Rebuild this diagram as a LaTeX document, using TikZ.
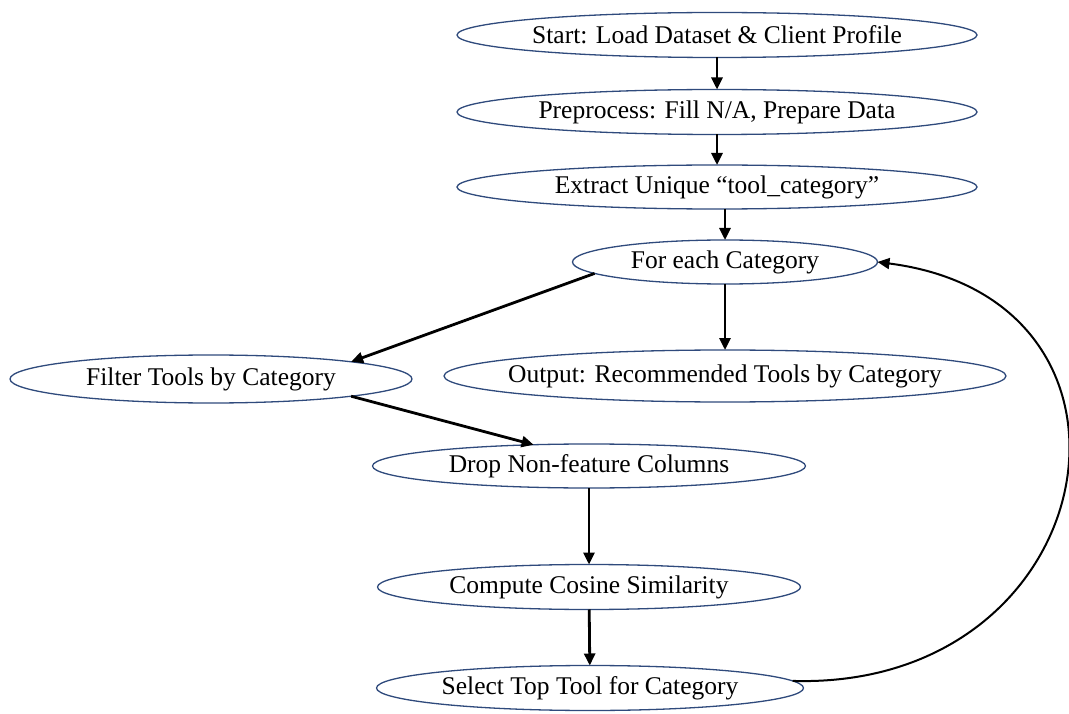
\documentclass[tikz,border=0pt]{standalone}
\usepackage{fontspec}
\setmainfont{Liberation Serif}
\usetikzlibrary{shapes.geometric,arrows.meta}
\definecolor{edgeblue}{HTML}{2F4A7C}
\begin{document}
\begin{tikzpicture}[x=1pt,y=-1pt,
  stage/.style={ellipse, draw=edgeblue, line width=1.3pt, fill=white,
    inner sep=0pt, outer sep=0pt, font=\fontsize{25.5}{30}\selectfont},
  flow/.style={line width=2.8pt, -{Triangle[length=12pt,width=11pt]}},
  back/.style={line width=2pt, -{Triangle[length=12pt,width=11pt]}}]
\useasboundingbox (0,0) rectangle (1069,714);

% main pipeline stages
\node[stage, minimum width=520pt, minimum height=45pt] (load)    at (717,35)  {\makebox[0pt]{Start: Load Dataset \& Client Profile}};
\node[stage, minimum width=520pt, minimum height=45pt] (prep)    at (717,112) {\makebox[0pt]{Preprocess: Fill N/A, Prepare Data}};
\node[stage, minimum width=520pt, minimum height=44pt] (extract) at (717,187) {\makebox[0pt]{Extract Unique “tool\_category”}};
\node[stage, minimum width=305pt, minimum height=44pt] (each)    at (725,262) {\makebox[0pt]{For each Category}};
\node[stage, minimum width=402pt, minimum height=48pt] (filter)  at (211,379) {\makebox[0pt]{Filter Tools by Category}};
\node[stage, minimum width=562pt, minimum height=52pt] (output)  at (725,376) {\makebox[0pt]{Output: Recommended Tools by Category}};
\node[stage, minimum width=433pt, minimum height=44pt] (drop)    at (589,466) {\makebox[0pt]{Drop Non-feature Columns}};
\node[stage, minimum width=423pt, minimum height=45pt] (cosine)  at (589,587) {\makebox[0pt]{Compute Cosine Similarity}};
\node[stage, minimum width=427pt, minimum height=45pt] (select)  at (590,688) {\makebox[0pt]{Select Top Tool for Category}};

% connectors
\draw[flow] (load) -- (prep);
\draw[flow] (prep) -- (extract);
\draw[flow] (extract.south -| each.north) -- (each.north);
\draw[flow] (each.185) -- (filter.7.5);
\draw[flow] (each) -- (output);
\draw[flow] (filter.-7.5) -- (drop.159);
\draw[flow] (drop) -- (cosine);
\draw[flow] (cosine) -- (select);

% loop back to the next category
\draw[back] (select.2) .. controls (1105,690) and (1175,300) .. (each.east);
\end{tikzpicture}
\end{document}
